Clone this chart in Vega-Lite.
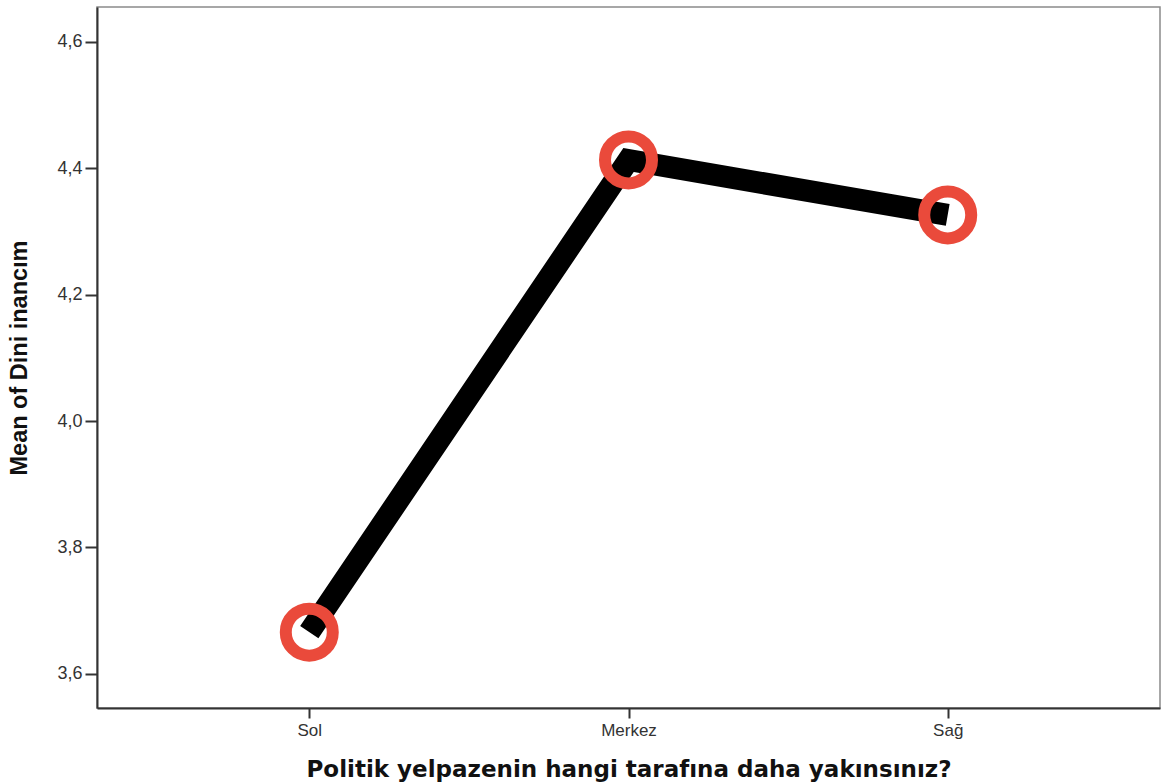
{
  "$schema": "https://vega.github.io/schema/vega-lite/v6.json",
  "autosize": {"type": "none"},
  "padding": {"left": 97, "top": 7, "right": 6, "bottom": 76},
  "width": 1063,
  "height": 701,
  "background": "white",
  "config": {
    "view": {"stroke": "#8a8a8a", "strokeWidth": 1.5},
    "axis": {"grid": false, "labelFont": "Liberation Sans", "titleFont": "Liberation Sans"}
  },
  "data": {
    "values": [
      {"taraf": "Sol", "mean": 3.666},
      {"taraf": "Merkez", "mean": 4.413},
      {"taraf": "Sağ", "mean": 4.326}
    ]
  },
  "encoding": {
    "x": {
      "field": "taraf",
      "type": "nominal",
      "sort": ["Sol", "Merkez", "Sağ"],
      "scale": {"type": "point", "padding": 0.665},
      "axis": {
        "title": "Politik yelpazenin hangi tarafına daha yakınsınız?",
        "titleFont": "DejaVu Sans",
        "titleFontWeight": "bold",
        "titleFontSize": 23,
        "titleColor": "#111",
        "titleBaseline": "top",
        "titleY": 50,
        "labelAngle": 0,
        "labelFontSize": 17,
        "labelColor": "#333",
        "labelPadding": 4,
        "tickSize": 10,
        "tickWidth": 2,
        "tickColor": "#333",
        "domainColor": "#333",
        "domainWidth": 2
      }
    },
    "y": {
      "field": "mean",
      "type": "quantitative",
      "scale": {"domain": [3.546, 4.655], "nice": false, "zero": false},
      "axis": {
        "title": "Mean of Dini inancım",
        "titleFontWeight": "bold",
        "titleFontSize": 23.5,
        "titleColor": "#111",
        "titleX": -66,
        "values": [3.6, 3.8, 4.0, 4.2, 4.4, 4.6],
        "labelExpr": "replace(format(datum.value, '.1f'), '.', ',')",
        "labelFontSize": 18,
        "labelColor": "#333",
        "labelPadding": 3,
        "tickSize": 12,
        "tickWidth": 2,
        "tickColor": "#333",
        "domainColor": "#333",
        "domainWidth": 2
      }
    }
  },
  "layer": [
    {"mark": {"type": "line", "color": "black", "strokeWidth": 22, "strokeCap": "butt", "strokeJoin": "miter"}},
    {"mark": {"type": "point", "shape": "circle", "filled": false, "color": "#ea4a3b", "strokeWidth": 12, "size": 2209, "opacity": 1}}
  ]
}
